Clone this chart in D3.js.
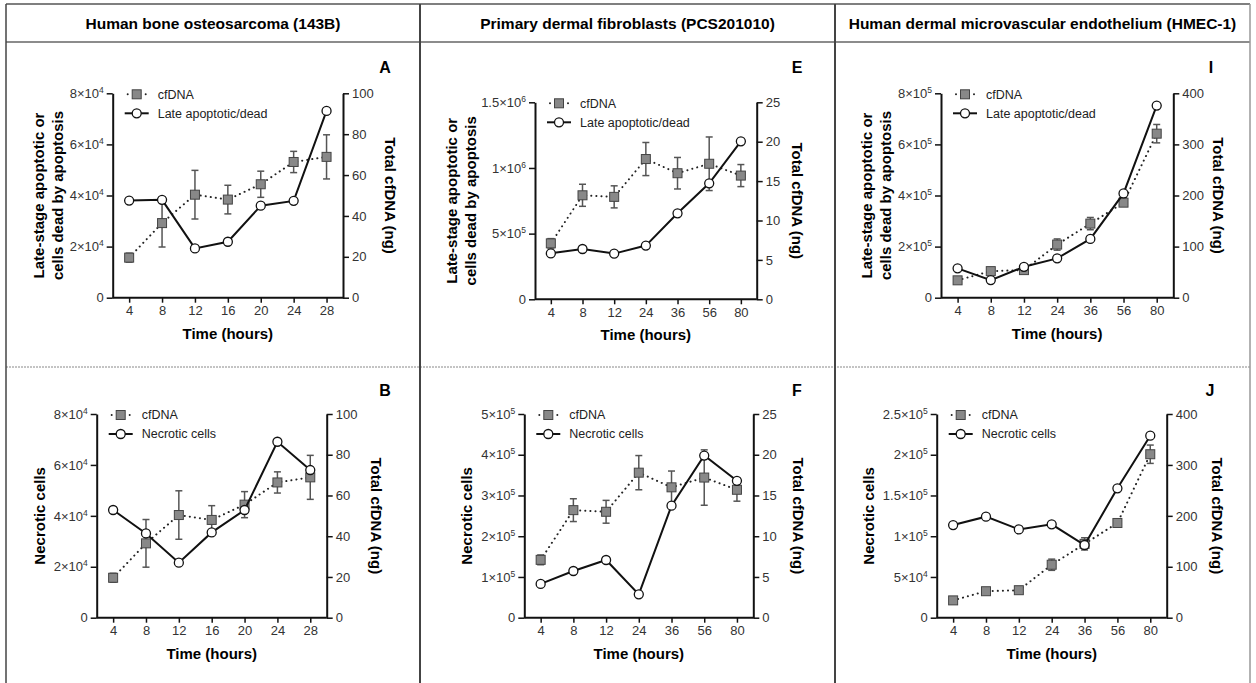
<!DOCTYPE html>
<html>
<head>
<meta charset="utf-8">
<script src="https://cdn.jsdelivr.net/npm/d3@7"></script>
<style>
body { margin: 0; background: #fff; }
svg { display: block; font-family: "Liberation Sans", Arial, sans-serif; }
</style>
</head>
<body>
<script>
// time points
var hours143B = ['4', '8', '12', '16', '20', '24', '28'];
var hoursLong = ['4', '8', '12', '24', '36', '56', '80'];

// 143B
var cfdna143B = [19.6, 36.5, 50.4, 48.0, 55.5, 66.4, 68.9];
var cfdna143BErr = [2.2, 11.7, 11.9, 7.0, 6.4, 5.2, 10.8];
var lateApop143B = [38000, 38300, 19300, 21900, 36000, 37900, 73100];
var necrotic143B = [42300, 33100, 21600, 33500, 42300, 69100, 58000];

// PCS201010
var cfdnaPCS = [7.1, 13.2, 13.0, 17.8, 16.0, 17.2, 15.7];
var cfdnaPCSErr = [0.6, 1.4, 1.4, 2.1, 2.0, 3.4, 1.4];
var lateApopPCS = [350000, 383000, 348000, 409000, 655000, 883000, 1203000];
var necroticPCS = [83000, 114600, 141600, 57300, 275000, 398000, 336000];

// HMEC-1
var cfdnaHMEC = [34, 52, 54, 104, 145, 186, 321];
var cfdnaHMECErr = [3, 3, 4, 11, 12, 6, 18];
var lateApopHMEC = [114800, 69000, 121000, 154000, 230000, 408000, 752000];
var necroticHMEC = [113700, 124000, 108400, 114600, 89200, 158800, 223400];

// tick labels
var ticks8e4 = [0, 20000, 40000, 60000, 80000];
var ticks100 = [0, 20, 40, 60, 80, 100];
var ticks15e6 = [0, 500000, 1000000, 1500000];
var ticks5e5 = [0, 100000, 200000, 300000, 400000, 500000];
var ticks25 = [0, 5, 10, 15, 20, 25];
var ticks8e5 = [0, 200000, 400000, 600000, 800000];
var ticks25e5 = [0, 50000, 100000, 150000, 200000, 250000];
var ticks400 = [0, 100, 200, 300, 400];

var headers = ['Human bone osteosarcoma (143B)', 'Primary dermal fibroblasts (PCS201010)', 'Human dermal microvascular endothelium (HMEC-1)'];

var W = 1256, H = 683;
var svg = d3.select('body').append('svg').attr('width', W).attr('height', H);

// table frame
var frame = svg.append('g');
var colX = [6, 420, 835, 1250];
frame.append('line').attr('x1', 6).attr('x2', 1250).attr('y1', 4).attr('y2', 4).attr('stroke', '#555').attr('stroke-width', 1.5);
frame.append('line').attr('x1', 6).attr('x2', 1250).attr('y1', 42).attr('y2', 42).attr('stroke', '#666').attr('stroke-width', 1.5);
frame.append('line').attr('x1', 6).attr('x2', 1250).attr('y1', 367).attr('y2', 367)
	.attr('stroke', '#888').attr('stroke-width', 1).attr('stroke-dasharray', '2,1');
colX.forEach(function (x, i) {
	frame.append('line').attr('x1', x).attr('x2', x).attr('y1', 4).attr('y2', H)
		.attr('stroke', i === 3 ? '#999' : '#444').attr('stroke-width', i === 0 || i === 3 ? 1.5 : 2);
});
headers.forEach(function (h, i) {
	frame.append('text').attr('x', (colX[i] + colX[i + 1]) / 2).attr('y', 29)
		.attr('text-anchor', 'middle').style('font-family', '"Liberation Sans Narrow", "Arial Narrow", sans-serif')
		.style('font-weight', 'bold').style('font-size', '15.5px').text(h);
});

function sciLabel(sel, v) {
	sel.text(null);
	if (v === 0) { sel.text('0'); return; }
	var e = Math.floor(Math.log10(v) + 1e-9);
	var m = +(v / Math.pow(10, e)).toFixed(2);
	sel.append('tspan').text(m + '\u00d710');
	sel.append('tspan').attr('dy', -5).style('font-size', '8.5px').text(e);
}

function drawPanel(p) {
	var g = svg.append('g');
	var x = d3.scalePoint().domain(p.hours).range([p.l, p.r]).padding(0.5);
	var yL = d3.scaleLinear().domain([0, d3.max(p.leftTicks)]).range([p.b, p.t]);
	var yR = d3.scaleLinear().domain([0, d3.max(p.rightTicks)]).range([p.b, p.t]);

	// axes
	var xAxis = d3.axisBottom(x).tickSize(5).tickSizeOuter(0).tickPadding(3);
	var gx = g.append('g').attr('transform', 'translate(0,' + p.b + ')').call(xAxis);
	gx.select('.domain').attr('d', 'M' + p.l + ',0H' + p.r);
	var gl = g.append('g').attr('transform', 'translate(' + p.l + ',0)')
		.call(d3.axisLeft(yL).tickValues(p.leftTicks).tickSize(6).tickSizeOuter(0).tickPadding(3));
	gl.selectAll('.tick text').each(function (d) { sciLabel(d3.select(this), d); });
	var gr = g.append('g').attr('transform', 'translate(' + p.r + ',0)')
		.call(d3.axisRight(yR).tickValues(p.rightTicks).tickSize(6).tickSizeOuter(0).tickPadding(3));
	[gx, gl, gr].forEach(function (a) {
		a.select('.domain').attr('stroke', '#111').attr('stroke-width', 2);
		a.selectAll('.tick line').attr('stroke', '#111').attr('stroke-width', 1.5);
		a.selectAll('.tick text').attr('fill', '#333').style('font-size', '13px')
			.style('font-family', '"Liberation Sans", Arial, sans-serif');
	});

	// axis titles
	g.append('text').attr('x', (p.l + p.r) / 2).attr('y', p.b + 41).attr('text-anchor', 'middle')
		.style('font-weight', 'bold').style('font-size', '15px').text('Time (hours)');
	var midY = (p.t + p.b) / 2;
	p.yTitle.forEach(function (line, i) {
		var tx = p.l - p.titleL + i * 19;
		g.append('text').attr('transform', 'translate(' + tx + ',' + midY + ') rotate(-90)')
			.attr('text-anchor', 'middle').attr('dy', '0.35em')
			.style('font-weight', 'bold').style('font-size', '15px').text(line);
	});
	g.append('text').attr('transform', 'translate(' + (p.r + p.titleR) + ',' + midY + ') rotate(90)')
		.attr('text-anchor', 'middle').attr('dy', '0.35em')
		.style('font-weight', 'bold').style('font-size', '15px').text('Total cfDNA (ng)');

	// panel letter
	g.append('text').attr('x', p.letterX).attr('y', p.letterY).attr('text-anchor', 'middle').attr('dy', '0.35em')
		.style('font-weight', 'bold').style('font-size', '16px').text(p.letter);

	// cfDNA series (right axis)
	var cfData = p.hours.map(function (h, i) { return {h: h, v: p.cf[i], e: p.cfErr[i]}; });
	g.append('path').datum(cfData)
		.attr('d', d3.line().x(function (d) { return x(d.h); }).y(function (d) { return yR(d.v); }))
		.attr('fill', 'none').attr('stroke', '#222').attr('stroke-width', 2)
		.attr('stroke-linecap', 'round').attr('stroke-dasharray', '0.1,5');
	var eb = g.append('g').selectAll('g').data(cfData).enter().append('g')
		.attr('stroke', '#555').attr('stroke-width', 1.5);
	eb.append('line').attr('x1', function (d) { return x(d.h); }).attr('x2', function (d) { return x(d.h); })
		.attr('y1', function (d) { return yR(d.v - d.e); }).attr('y2', function (d) { return yR(d.v + d.e); });
	[-1, 1].forEach(function (s) {
		eb.append('line').attr('x1', function (d) { return x(d.h) - 3.5; }).attr('x2', function (d) { return x(d.h) + 3.5; })
			.attr('y1', function (d) { return yR(d.v + s * d.e); }).attr('y2', function (d) { return yR(d.v + s * d.e); });
	});
	g.append('g').selectAll('rect').data(cfData).enter().append('rect')
		.attr('x', function (d) { return x(d.h) - 4.5; }).attr('y', function (d) { return yR(d.v) - 4.5; })
		.attr('width', 9).attr('height', 9).attr('fill', '#888').attr('stroke', '#444').attr('stroke-width', 1);

	// cells series (left axis)
	var cellData = p.hours.map(function (h, i) { return {h: h, v: p.cells[i]}; });
	g.append('path').datum(cellData)
		.attr('d', d3.line().x(function (d) { return x(d.h); }).y(function (d) { return yL(d.v); }))
		.attr('fill', 'none').attr('stroke', '#111').attr('stroke-width', 2);
	g.append('g').selectAll('circle').data(cellData).enter().append('circle')
		.attr('cx', function (d) { return x(d.h); }).attr('cy', function (d) { return yL(d.v); })
		.attr('r', 4.5).attr('fill', '#fff').attr('stroke', '#111').attr('stroke-width', 1.3);

	// legend
	var lx = p.l + 24, ly1 = p.t + 1, ly2 = p.t + 20;
	[-9, 9].forEach(function (dx) {
		g.append('circle').attr('cx', lx + dx).attr('cy', ly1).attr('r', 1).attr('fill', '#222');
	});
	g.append('rect').attr('x', lx - 4.5).attr('y', ly1 - 4.5).attr('width', 9).attr('height', 9)
		.attr('fill', '#888').attr('stroke', '#444');
	g.append('line').attr('x1', lx - 12).attr('x2', lx + 12).attr('y1', ly2).attr('y2', ly2)
		.attr('stroke', '#111').attr('stroke-width', 2);
	g.append('circle').attr('cx', lx).attr('cy', ly2).attr('r', 4.5).attr('fill', '#fff')
		.attr('stroke', '#111').attr('stroke-width', 1.3);
	g.append('text').attr('x', p.l + 45).attr('y', ly1).attr('dy', '0.35em').style('font-size', '12.5px')
		.attr('fill', '#222').text('cfDNA');
	g.append('text').attr('x', p.l + 45).attr('y', ly2).attr('dy', '0.35em').style('font-size', '12.5px')
		.attr('fill', '#222').text(p.cellsLabel);
}

var lateTitle = ['Late-stage apoptotic or', 'cells dead by apoptosis'];
var necTitle = ['Necrotic cells'];

var panels = [
	{letter: 'A', hours: hours143B, cf: cfdna143B, cfErr: cfdna143BErr, cells: lateApop143B, cellsLabel: 'Late apoptotic/dead',
		yTitle: lateTitle, leftTicks: ticks8e4, rightTicks: ticks100, l: 112.7, r: 343, t: 93.3, b: 297.7,
		titleL: 74, titleR: 47, letterX: 385, letterY: 67},
	{letter: 'B', hours: hours143B, cf: cfdna143B, cfErr: cfdna143BErr, cells: necrotic143B, cellsLabel: 'Necrotic cells',
		yTitle: necTitle, leftTicks: ticks8e4, rightTicks: ticks100, l: 96.7, r: 326.7, t: 414, b: 617.7,
		titleL: 57, titleR: 50, letterX: 385, letterY: 390},
	{letter: 'E', hours: hoursLong, cf: cfdnaPCS, cfErr: cfdnaPCSErr, cells: lateApopPCS, cellsLabel: 'Late apoptotic/dead',
		yTitle: lateTitle, leftTicks: ticks15e6, rightTicks: ticks25, l: 535, r: 756.7, t: 102.3, b: 299.3,
		titleL: 83, titleR: 41, letterX: 797, letterY: 67},
	{letter: 'F', hours: hoursLong, cf: cfdnaPCS, cfErr: cfdnaPCSErr, cells: necroticPCS, cellsLabel: 'Necrotic cells',
		yTitle: necTitle, leftTicks: ticks5e5, rightTicks: ticks25, l: 524.3, r: 753.3, t: 414, b: 617.7,
		titleL: 57.6, titleR: 45, letterX: 797, letterY: 390},
	{letter: 'I', hours: hoursLong, cf: cfdnaHMEC, cfErr: cfdnaHMECErr, cells: lateApopHMEC, cellsLabel: 'Late apoptotic/dead',
		yTitle: lateTitle, leftTicks: ticks8e5, rightTicks: ticks400, l: 941, r: 1173.3, t: 93.3, b: 297.7,
		titleL: 74, titleR: 45, letterX: 1211, letterY: 67},
	{letter: 'J', hours: hoursLong, cf: cfdnaHMEC, cfErr: cfdnaHMECErr, cells: necroticHMEC, cellsLabel: 'Necrotic cells',
		yTitle: necTitle, leftTicks: ticks25e5, rightTicks: ticks400, l: 936.7, r: 1166.7, t: 414, b: 617.7,
		titleL: 68, titleR: 51, letterX: 1210, letterY: 390}
];
panels.forEach(drawPanel);
</script>
</body>
</html>
